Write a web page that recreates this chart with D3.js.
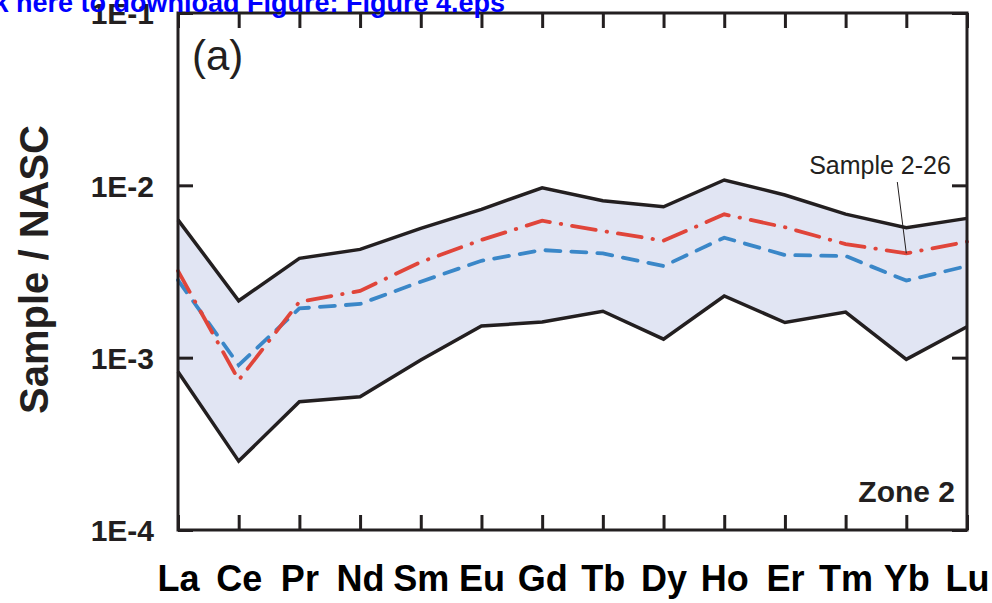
<!DOCTYPE html>
<html>
<head>
<meta charset="utf-8">
<script src="https://cdn.jsdelivr.net/npm/d3@7"></script>
<style>
  body { margin: 0; background: #fff; }
  text { font-family: "Liberation Sans", Arial, sans-serif; }
</style>
</head>
<body>
<div id="chart"></div>
<script>
// REE pattern, Zone 2
const elements = ["La","Ce","Pr","Nd","Sm","Eu","Gd","Tb","Dy","Ho","Er","Tm","Yb","Lu"];
const upperBound = [0.0063,0.00214,0.00377,0.00425,0.00563,0.00726,0.00968,0.00814,0.00751,0.01074,0.00879,0.00681,0.00568,0.00643];
const lowerBound = [0.000828,0.000251,0.000555,0.000593,0.000969,0.001525,0.00161,0.00186,0.00128,0.00228,0.0016,0.00184,0.000977,0.00151];
const sample226  = [0.00319,0.000741,0.00211,0.00244,0.00359,0.00482,0.00623,0.00543,0.00477,0.00679,0.00571,0.00456,0.00403,0.00471];
const meanZone   = [0.00282,0.000906,0.00193,0.00205,0.00276,0.00365,0.00421,0.00403,0.0034,0.00497,0.00394,0.00389,0.0028,0.0034];
const yTicks = [1e-1, 1e-2, 1e-3, 1e-4];
const yTickLabels = ["1E-1","1E-2","1E-3","1E-4"];

const W = 992, H = 603;
const box = { left: 178, right: 967, top: 13, bottom: 530 };
const ink = "#231f20";

const svg = d3.select("#chart").append("svg")
  .attr("width", W).attr("height", H);

const x = d3.scalePoint().domain(elements).range([box.left, box.right]).padding(0);
const y = d3.scaleLog().domain([1e-4, 1e-1]).range([box.bottom, box.top]);

const rows = elements.map((e, i) => ({
  el: e, hi: upperBound[i], lo: lowerBound[i], s: sample226[i], m: meanZone[i]
}));

// shaded range
svg.append("path")
  .datum(rows)
  .attr("fill", "#e1e5f3")
  .attr("d", d3.area().x(d => x(d.el)).y0(d => y(d.lo)).y1(d => y(d.hi)));

// blue dashed line
svg.append("path")
  .datum(rows)
  .attr("fill", "none")
  .attr("stroke", "#3a87c8")
  .attr("stroke-width", 3.8)
  .attr("stroke-linecap", "round")
  .attr("stroke-dasharray", "15,11")
  .attr("d", d3.line().x(d => x(d.el)).y(d => y(d.m)));

// red dash-dot line (Sample 2-26)
svg.append("path")
  .datum(rows)
  .attr("fill", "none")
  .attr("stroke", "#e0453a")
  .attr("stroke-width", 3.8)
  .attr("stroke-linecap", "round")
  .attr("stroke-dasharray", "24,11,0.5,11")
  .attr("d", d3.line().x(d => x(d.el)).y(d => y(d.s)));

// black envelope lines
["hi","lo"].forEach(k => {
  svg.append("path")
    .datum(rows)
    .attr("fill", "none")
    .attr("stroke", ink)
    .attr("stroke-width", 3.5)
    .attr("d", d3.line().x(d => x(d.el)).y(d => y(d[k])));
});

// axes: inward ticks on all four sides
function styleAxis(g) {
  g.select(".domain").remove();
  g.selectAll(".tick line").attr("stroke", ink).attr("stroke-width", 3);
}

svg.append("g")
  .attr("transform", `translate(0,${box.bottom})`)
  .call(d3.axisBottom(x).tickSize(-15).tickPadding(35))
  .call(styleAxis)
  .call(g => g.selectAll(".tick text")
    .attr("fill", "#000")
    .style("font-size", "36px")
    .style("font-weight", "bold"));

svg.append("g")
  .attr("transform", `translate(0,${box.top})`)
  .call(d3.axisTop(x).tickSize(-15).tickFormat(""))
  .call(styleAxis);

svg.append("g")
  .attr("transform", `translate(${box.left},0)`)
  .call(d3.axisLeft(y).tickValues(yTicks).tickSize(-15).tickPadding(24)
    .tickFormat((d, i) => yTickLabels[i]))
  .call(styleAxis)
  .call(g => g.selectAll(".tick text")
    .attr("fill", ink)
    .attr("dy", "0.36em")
    .style("font-size", "30px")
    .style("font-weight", "bold"));

svg.append("g")
  .attr("transform", `translate(${box.right},0)`)
  .call(d3.axisRight(y).tickValues(yTicks).tickSize(-15).tickFormat(""))
  .call(styleAxis);

// frame
svg.append("rect")
  .attr("x", box.left).attr("y", box.top)
  .attr("width", box.right - box.left).attr("height", box.bottom - box.top)
  .attr("fill", "none").attr("stroke", ink).attr("stroke-width", 3);

// y title
svg.append("text")
  .attr("transform", `translate(48,${(box.top + box.bottom) / 2 - 2}) rotate(-90)`)
  .attr("text-anchor", "middle")
  .attr("fill", ink)
  .style("font-size", "40px")
  .style("font-weight", "bold")
  .text("Sample / NASC");

// panel letter and zone label
svg.append("text")
  .attr("x", 192).attr("y", 70)
  .attr("fill", ink)
  .style("font-size", "42px")
  .text("(a)");

svg.append("text")
  .attr("x", 955).attr("y", 502)
  .attr("text-anchor", "end")
  .attr("fill", ink)
  .style("font-size", "30px")
  .style("font-weight", "bold")
  .text("Zone 2");

// annotation
const ybIdx = elements.indexOf("Yb");
svg.append("line")
  .attr("x1", x("Yb") - 9).attr("y1", 182)
  .attr("x2", x("Yb")).attr("y2", y(sample226[ybIdx]))
  .attr("stroke", ink).attr("stroke-width", 1);
svg.append("text")
  .attr("x", 880).attr("y", 174)
  .attr("text-anchor", "middle")
  .attr("fill", ink)
  .style("font-size", "25px")
  .text("Sample 2-26");

// download link banner, clipped at the top-left
svg.append("text")
  .attr("x", 505).attr("y", 12)
  .attr("text-anchor", "end")
  .attr("fill", "#0000ff")
  .style("font-size", "27px")
  .style("font-weight", "bold")
  .text("Click here to download Figure: Figure 4.eps");
</script>
</body>
</html>
